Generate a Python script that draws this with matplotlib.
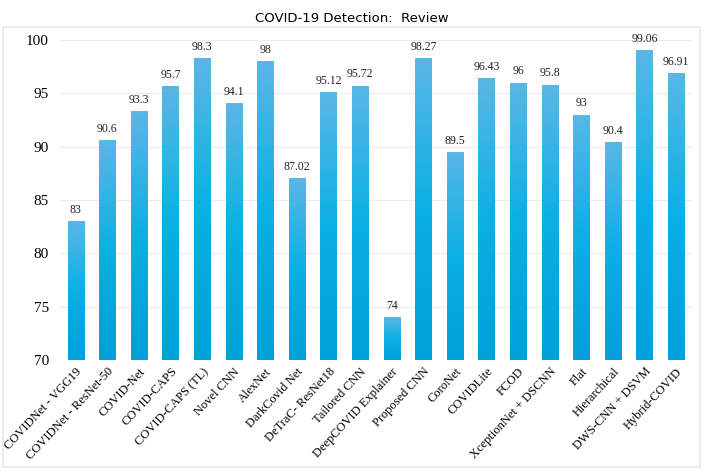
import numpy as np
import matplotlib.pyplot as plt
from matplotlib.colors import LinearSegmentedColormap
from matplotlib.patches import Rectangle

models = ['COVIDNet - VGG19', 'COVIDNet - ResNet-50', 'COVID-Net', 'COVID-CAPS',
          'COVID-CAPS (TL)', 'Novel CNN', 'AlexNet', 'DarkCovid Net',
          'DeTraC- ResNet18', 'Tailored CNN', 'DeepCOVID Explainer', 'Proposed CNN',
          'CoroNet', 'COVIDLite', 'FCOD', 'XceptionNet + DSCNN', 'Flat',
          'Hierarchical', 'DWS-CNN + DSVM', 'Hybrid-COVID']
accuracy = [83, 90.6, 93.3, 95.7, 98.3, 94.1, 98, 87.02, 95.12, 95.72, 74,
            98.27, 89.5, 96.43, 96, 95.8, 93, 90.4, 99.06, 96.91]
value_labels = ['83', '90.6', '93.3', '95.7', '98.3', '94.1', '98', '87.02', '95.12',
                '95.72', '74', '98.27', '89.5', '96.43', '96', '95.8', '93', '90.4',
                '99.06', '96.91']
yticks = [70, 75, 80, 85, 90, 95, 100]

fig = plt.figure(figsize=(7.04, 4.72), dpi=100, facecolor='white')
# outer frame around the chart image
fig.patches.append(Rectangle((3/704, 5/472), 697/704, 440/472, transform=fig.transFigure,
                             fill=False, edgecolor='#e6eaee', linewidth=1.2))
fig.text(0.5, 1 - 18/472, 'COVID-19 Detection:  Review', ha='center', va='center',
         fontsize=9.5, family='DejaVu Sans')

ax = fig.add_axes([60/704, 1 - 360/472, 632/704, 320/472])
ymin, ymax = 70, 100
x = np.arange(len(models))
width = 0.52
bars = ax.bar(x, np.array(accuracy) - ymin, bottom=ymin, width=width, color='none',
              edgecolor='none', zorder=2)

cmap = LinearSegmentedColormap.from_list('grad', ['#00a0d8', '#0bb0e4', '#5ab7e6'])
grad = np.linspace(0, 1, 256).reshape(-1, 1)
for b in bars:
    x0, y0 = b.get_x(), b.get_y()
    w, h = b.get_width(), b.get_height()
    im = ax.imshow(grad, cmap=cmap, origin='lower', aspect='auto',
                   extent=[x0, x0 + w, y0, y0 + h], zorder=2)
    im.set_clip_path(b)

for xi, v, s in zip(x, accuracy, value_labels):
    ax.text(xi, v + 0.5, s, ha='center', va='bottom', fontsize=8.5,
            family='Liberation Serif', color='#222222')

ax.set_xlim(-0.5, len(models) - 0.5)
ax.set_ylim(ymin, ymax)
ax.set_yticks(yticks)
ax.set_yticklabels([str(t) for t in yticks], family='Liberation Serif', fontsize=11)
ax.set_xticks(x)
ax.set_xticklabels(models, rotation=47, ha='right', rotation_mode='anchor',
                   family='Liberation Serif', fontsize=9)
ax.tick_params(axis='x', length=0, pad=4)
ax.tick_params(axis='y', length=0, pad=8)
ax.grid(axis='y', color='#e8ecf0', linewidth=0.8, zorder=0)
ax.set_axisbelow(True)
for sp in ax.spines.values():
    sp.set_visible(False)

plt.savefig('out.png', dpi=100)
